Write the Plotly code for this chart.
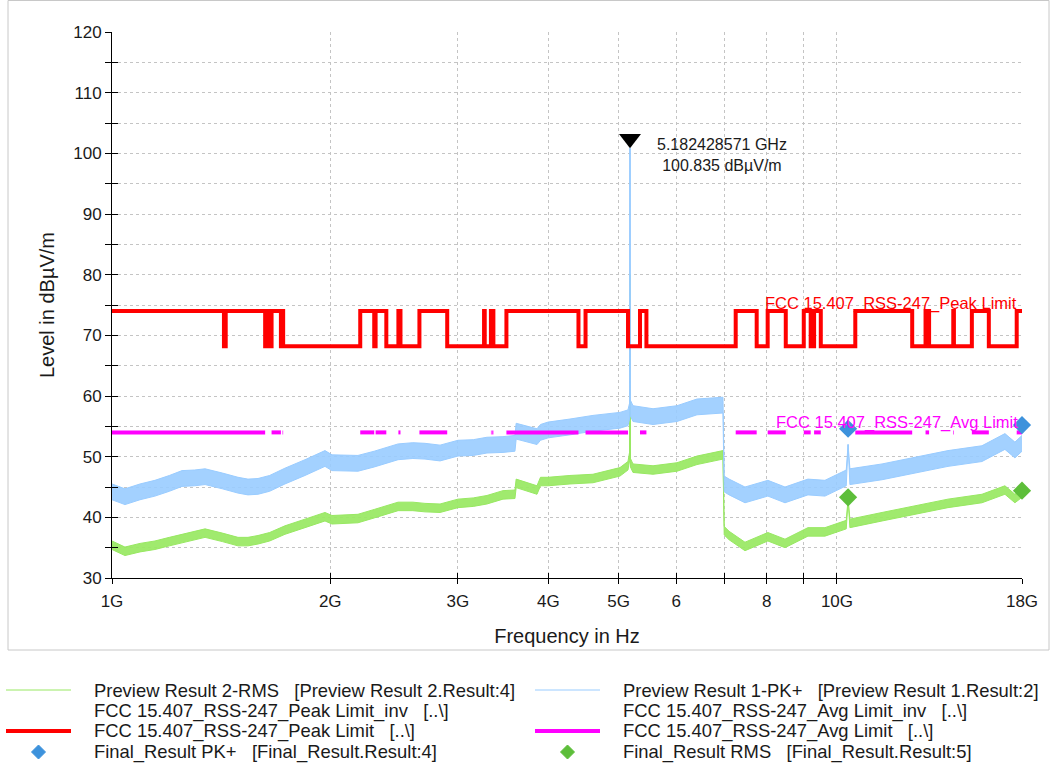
import math
import plotly.graph_objects as go

# ---------------- data ----------------
freq_ghz = [1.000, 1.042, 1.093, 1.146, 1.200, 1.249, 1.300, 1.344, 1.420, 1.492,
            1.540, 1.590, 1.650, 1.732, 1.846, 1.967, 2.011, 2.100, 2.184, 2.300,
            2.481, 2.600, 2.702, 2.835, 3.001, 3.150, 3.290, 3.462, 3.596, 3.610,
            3.772, 3.857, 3.900, 3.995, 4.282, 4.607, 5.020, 5.149, 5.175, 5.1824,
            5.190, 5.232, 5.576, 6.017, 6.411, 6.963, 6.990, 7.100, 7.467, 8.030,
            8.479, 9.120, 9.626, 10.30, 10.36, 10.42, 11.54, 12.81, 14.23, 15.85,
            17.05, 17.60, 18.00]

# Preview Result 1-PK+ : upper / lower envelope of the noisy trace (dBuV/m)
pk_hi = [45.5, 44.7, 45.5, 46.1, 46.9, 47.7, 47.8, 48.0, 47.3, 46.6,
         46.3, 46.4, 46.9, 48.1, 49.5, 51.0, 50.3, 50.3, 50.2, 50.9,
         52.1, 52.3, 52.2, 51.9, 52.7, 52.8, 53.2, 53.3, 53.5, 55.5,
         54.9, 54.6, 55.3, 55.7, 56.2, 56.8, 57.3, 57.7, 58.8, 100.835,
         59.3, 58.4, 57.9, 58.4, 59.5, 59.8, 46.8, 46.3, 45.0, 46.1,
         45.0, 46.3, 46.1, 47.8, 52.0, 48.0, 48.8, 49.9, 51.0, 51.8,
         53.8, 52.4, 53.5]
pk_lo = [42.9, 42.1, 42.9, 43.5, 44.3, 45.1, 45.2, 45.4, 44.7, 44.0,
         43.7, 43.8, 44.3, 45.5, 46.9, 48.4, 47.7, 47.7, 47.6, 48.3,
         49.5, 49.7, 49.6, 49.3, 50.1, 50.2, 50.6, 50.7, 50.9, 52.9,
         52.3, 52.0, 52.7, 53.1, 53.6, 54.2, 54.7, 55.1, 56.2, 100.835,
         56.7, 55.8, 55.3, 55.8, 56.9, 57.2, 44.2, 43.7, 42.4, 43.5,
         42.4, 43.7, 43.5, 45.2, 52.0, 45.4, 46.2, 47.3, 48.4, 49.2,
         51.2, 49.8, 50.9]

# Preview Result 2-RMS : upper / lower envelope (dBuV/m)
rms_hi = [36.1, 35.1, 35.7, 36.1, 36.7, 37.2, 37.7, 38.1, 37.4, 36.7,
          36.7, 37.0, 37.5, 38.6, 39.7, 40.8, 40.3, 40.4, 40.5, 41.3,
          42.5, 42.5, 42.3, 42.2, 43.0, 43.2, 43.6, 44.4, 44.5, 46.3,
          45.6, 45.2, 46.6, 46.6, 46.9, 47.1, 48.2, 49.2, 50.7, 80.0,
          49.7, 48.8, 48.5, 49.0, 50.1, 51.0, 38.5, 37.7, 35.9, 37.5,
          36.4, 38.3, 38.3, 39.5, 43.0, 39.7, 40.8, 41.9, 43.0, 43.8,
          45.2, 43.8, 44.7]
rms_lo = [34.7, 33.7, 34.3, 34.7, 35.3, 35.8, 36.3, 36.7, 36.0, 35.3,
          35.3, 35.6, 36.1, 37.2, 38.3, 39.4, 38.9, 39.0, 39.1, 39.9,
          41.1, 41.1, 40.9, 40.8, 41.6, 41.8, 42.2, 43.0, 43.1, 44.9,
          44.2, 43.8, 45.2, 45.2, 45.5, 45.7, 46.8, 47.8, 49.3, 80.0,
          48.3, 47.4, 47.1, 47.6, 48.7, 49.6, 37.1, 36.3, 34.5, 36.1,
          35.0, 36.9, 36.9, 38.1, 43.0, 38.3, 39.4, 40.5, 41.6, 42.4,
          43.8, 42.4, 43.3]

peak_marker_freq = 5.182428571   # GHz
peak_marker_level = 100.835      # dBuV/m

final_pk_freq = [10.36, 18.0]
final_pk_level = [54.6, 55.2]
final_rms_freq = [10.36, 18.0]
final_rms_level = [43.3, 44.4]

# restricted bands (GHz): peak limit 74 inside, 68.2 outside
restricted_bands = [(0.96, 1.427), (1.435, 1.6265), (1.6455, 1.6465), (1.66, 1.71),
                    (1.7188, 1.7222), (2.2, 2.3), (2.31, 2.39), (2.4835, 2.5),
                    (2.655, 2.9), (3.26, 3.267), (3.332, 3.339), (3.3458, 3.358),
                    (3.5, 4.4), (4.5, 5.15), (5.35, 5.46), (7.25, 7.75),
                    (8.025, 8.5), (9.0, 9.2), (9.3, 9.5), (10.6, 12.7),
                    (13.25, 13.4), (14.47, 14.5), (15.35, 16.2), (17.7, 21.4)]
avg_bands = [(1.0, 1.6265), (1.6455, 1.6465), (1.66, 1.71), (1.7188, 1.7222),
             (2.2, 2.3), (2.31, 2.39), (2.4835, 2.5), (2.655, 2.9),
             (3.332, 3.339), (3.3458, 3.358), (3.5, 4.4), (4.5, 5.15),
             (5.35, 5.46), (7.25, 7.75), (8.025, 8.5), (9.0, 9.2), (9.3, 9.5),
             (10.6, 12.7), (13.25, 13.4), (14.47, 14.5), (15.35, 16.2), (17.7, 18.0)]
peak_limit_restricted = 74.0
peak_limit_other = 68.2
avg_limit_level = 54.0

x_range_ghz = [1.0, 18.0]
y_range = [30, 120]
x_tick_vals = [1, 2, 3, 4, 5, 6, 7, 8, 9, 10, 18]
x_tick_text = ["1G", "2G", "3G", "4G", "5G", "6", "", "8", "", "10G", "18G"]
y_tick_vals = list(range(30, 121, 5))
y_tick_text = [str(v) if v % 10 == 0 else "" for v in y_tick_vals]

name_rms = "Preview Result 2-RMS   [Preview Result 2.Result:4]"
name_pk = "Preview Result 1-PK+   [Preview Result 1.Result:2]"
name_peak_inv = "FCC 15.407_RSS-247_Peak Limit_inv   [..\\]"
name_avg_inv = "FCC 15.407_RSS-247_Avg Limit_inv   [..\\]"
name_peak = "FCC 15.407_RSS-247_Peak Limit   [..\\]"
name_avg = "FCC 15.407_RSS-247_Avg Limit   [..\\]"
name_fpk = "Final_Result PK+   [Final_Result.Result:4]"
name_frms = "Final_Result RMS   [Final_Result.Result:5]"
peak_label = "FCC 15.407_RSS-247_Peak Limit"
avg_label = "FCC 15.407_RSS-247_Avg Limit"

# ---------------- styles ----------------
FONT = "Liberation Sans, Arial, sans-serif"
TXT = "#1a1a1a"
C_PK = "#99CCFF"
C_PK_FILL = "rgba(153,204,255,0.9)"
C_RMS = "#98E862"
C_RMS_FILL = "rgba(152,232,98,0.92)"
C_PEAK = "#FF0000"
C_AVG = "#FF00FF"
C_FPK = "#3D92DC"
C_FRMS = "#5DBE3A"
GRID = "#c4c4c4"

W, H = 1050, 765
PL, PR, PT, PB = 112, 1022, 32, 578


def px_x(p):
    return (p - PL) / (PR - PL)


def px_y(p):
    return (PB - p) / (PB - PT)


# ---------------- derived limit lines ----------------
lo_f, hi_f = x_range_ghz
edges = sorted({lo_f, hi_f} | {e for b in restricted_bands for e in b if lo_f < e < hi_f})
pl_x, pl_y = [], []
for a, b in zip(edges[:-1], edges[1:]):
    mid = math.sqrt(a * b)
    lvl = peak_limit_restricted if any(s <= mid <= e for s, e in restricted_bands) else peak_limit_other
    pl_x.append(a)
    pl_y.append(lvl)
pl_x.append(edges[-1])
pl_y.append(pl_y[-1])

av_x, av_y = [], []
for s, e in avg_bands:
    av_x += [max(s, lo_f), min(e, hi_f), None]
    av_y += [avg_limit_level, avg_limit_level, None]

fig = go.Figure()

# RMS preview band
fig.add_trace(go.Scatter(x=freq_ghz, y=rms_lo, mode="lines", line=dict(color=C_RMS, width=1),
                         name=name_rms, showlegend=False, hoverinfo="skip"))
fig.add_trace(go.Scatter(x=freq_ghz, y=rms_hi, mode="lines", line=dict(color=C_RMS, width=1),
                         fill="tonexty", fillcolor=C_RMS_FILL, name=name_rms, showlegend=False))
# PK+ preview band
fig.add_trace(go.Scatter(x=freq_ghz, y=pk_lo, mode="lines", line=dict(color=C_PK, width=1),
                         name=name_pk, showlegend=False, hoverinfo="skip"))
fig.add_trace(go.Scatter(x=freq_ghz, y=pk_hi, mode="lines", line=dict(color=C_PK, width=1),
                         fill="tonexty", fillcolor=C_PK_FILL, name=name_pk, showlegend=False))
# limits
fig.add_trace(go.Scatter(x=pl_x, y=pl_y, mode="lines", line=dict(color=C_PEAK, width=4, shape="hv"),
                         name=name_peak, showlegend=False))
fig.add_trace(go.Scatter(x=av_x, y=av_y, mode="lines", line=dict(color=C_AVG, width=4),
                         name=name_avg, showlegend=False, connectgaps=False))
# final results
fig.add_trace(go.Scatter(x=final_pk_freq, y=final_pk_level, mode="markers",
                         marker=dict(symbol="diamond", size=14, color=C_FPK),
                         name=name_fpk, showlegend=False, cliponaxis=False))
fig.add_trace(go.Scatter(x=final_rms_freq, y=final_rms_level, mode="markers",
                         marker=dict(symbol="diamond", size=14, color=C_FRMS),
                         name=name_frms, showlegend=False, cliponaxis=False))
# peak marker (triangle tip sits on the peak)
tri_size = 19
dB_per_px = (y_range[1] - y_range[0]) / (PB - PT)
fig.add_trace(go.Scatter(x=[peak_marker_freq], y=[peak_marker_level + (tri_size / 2) * dB_per_px],
                         mode="markers", marker=dict(symbol="triangle-down", size=tri_size, color="black"),
                         showlegend=False, cliponaxis=False, hoverinfo="skip"))
# dummy trace for the overlay axes (inside tick marks)
fig.add_trace(go.Scatter(x=x_range_ghz, y=[y_range[0]] * 2, xaxis="x2", yaxis="y2", mode="lines",
                         line=dict(color="rgba(0,0,0,0)", width=0), showlegend=False, hoverinfo="skip"))

axis_common = dict(showline=True, linecolor="black", linewidth=1, tickcolor="black",
                   zeroline=False, automargin=False, tickfont=dict(size=17, color=TXT, family=FONT))
fig.update_layout(
    width=W, height=H,
    margin=dict(l=PL, r=W - PR, t=PT, b=H - PB, autoexpand=False),
    paper_bgcolor="white", plot_bgcolor="white", showlegend=False,
    font=dict(family=FONT, color=TXT),
    xaxis=dict(type="log", range=[math.log10(x_range_ghz[0]), math.log10(x_range_ghz[1])],
               tickmode="array", tickvals=x_tick_vals, ticktext=x_tick_text,
               ticks="outside", ticklen=5, ticklabelstandoff=3,
               showgrid=True, gridcolor=GRID, griddash="dot", gridwidth=1,
               title=dict(text="Frequency in Hz", font=dict(size=20, color=TXT, family=FONT), standoff=18),
               **axis_common),
    yaxis=dict(range=y_range, tickmode="array", tickvals=y_tick_vals, ticktext=y_tick_text,
               ticks="outside", ticklen=6, showgrid=True, gridcolor=GRID, griddash="dot", gridwidth=1,
               title=dict(text="Level in dBµV/m", font=dict(size=20, color=TXT, family=FONT), standoff=13),
               **axis_common),
    xaxis2=dict(type="log", range=[math.log10(x_range_ghz[0]), math.log10(x_range_ghz[1])],
                overlaying="x", anchor="y2", side="bottom", tickmode="array", tickvals=x_tick_vals,
                ticks="inside", ticklen=5, tickcolor="black", showticklabels=False, showgrid=False,
                showline=False, zeroline=False),
    yaxis2=dict(range=y_range, overlaying="y", anchor="x2", side="left", tickmode="array",
                tickvals=y_tick_vals, ticks="inside", ticklen=6, tickcolor="black",
                showticklabels=False, showgrid=False, showline=False, zeroline=False),
)

shapes = []
annotations = []
# outer frame
shapes.append(dict(type="rect", xref="paper", yref="paper", x0=px_x(8), x1=px_x(1049),
                   y0=px_y(650), y1=px_y(0.5), line=dict(color="#c8c8c8", width=1), layer="below"))

# limit labels
annotations.append(dict(xref="paper", yref="paper", x=px_x(1019), y=px_y(303), text=peak_label,
                        showarrow=False, xanchor="right", yanchor="middle",
                        font=dict(size=16.5, color=C_PEAK, family=FONT)))
annotations.append(dict(xref="paper", yref="paper", x=px_x(1020), y=px_y(422), text=avg_label,
                        showarrow=False, xanchor="right", yanchor="middle",
                        font=dict(size=16.5, color=C_AVG, family=FONT)))
# peak marker label
annotations.append(dict(xref="paper", yref="paper", x=px_x(722), y=px_y(155),
                        text=f"{peak_marker_freq:.9f} GHz<br>{peak_marker_level:.3f} dBµV/m",
                        showarrow=False, xanchor="center", yanchor="middle",
                        font=dict(size=16, color=TXT, family=FONT)))

# manual legend (two columns, four rows)
row_y = [690, 711, 731, 752]
col_sym = [(6, 71), (535, 600)]
col_txt = [92, 621]
legend_rows = [
    [(name_rms, "line", C_RMS, 1), (name_pk, "line", C_PK, 1)],
    [(name_peak_inv, None, None, 0), (name_avg_inv, None, None, 0)],
    [(name_peak, "line", C_PEAK, 4), (name_avg, "line", C_AVG, 4)],
    [(name_fpk, "diamond", C_FPK, 0), (name_frms, "diamond", C_FRMS, 0)],
]
for r, row in enumerate(legend_rows):
    yy = row_y[r]
    for c, (label, kind, color, lw) in enumerate(row):
        x0, x1 = col_sym[c]
        if kind == "line":
            shapes.append(dict(type="line", xref="paper", yref="paper", x0=px_x(x0), x1=px_x(x1),
                               y0=px_y(yy), y1=px_y(yy), line=dict(color=color, width=lw)))
        elif kind == "diamond":
            cx = (x0 + x1) / 2
            hs = 7
            path = (f"M {px_x(cx)},{px_y(yy - hs)} L {px_x(cx + hs)},{px_y(yy)} "
                    f"L {px_x(cx)},{px_y(yy + hs)} L {px_x(cx - hs)},{px_y(yy)} Z")
            shapes.append(dict(type="path", xref="paper", yref="paper", path=path,
                               fillcolor=color, line=dict(color=color, width=1)))
        annotations.append(dict(xref="paper", yref="paper", x=px_x(col_txt[c]), y=px_y(yy),
                                text=label.replace(" ", "\u00a0"), showarrow=False,
                                xanchor="left", yanchor="middle",
                                font=dict(size=18.4, color=TXT, family=FONT)))

fig.update_layout(shapes=shapes, annotations=annotations)
fig.write_html("out.html")
